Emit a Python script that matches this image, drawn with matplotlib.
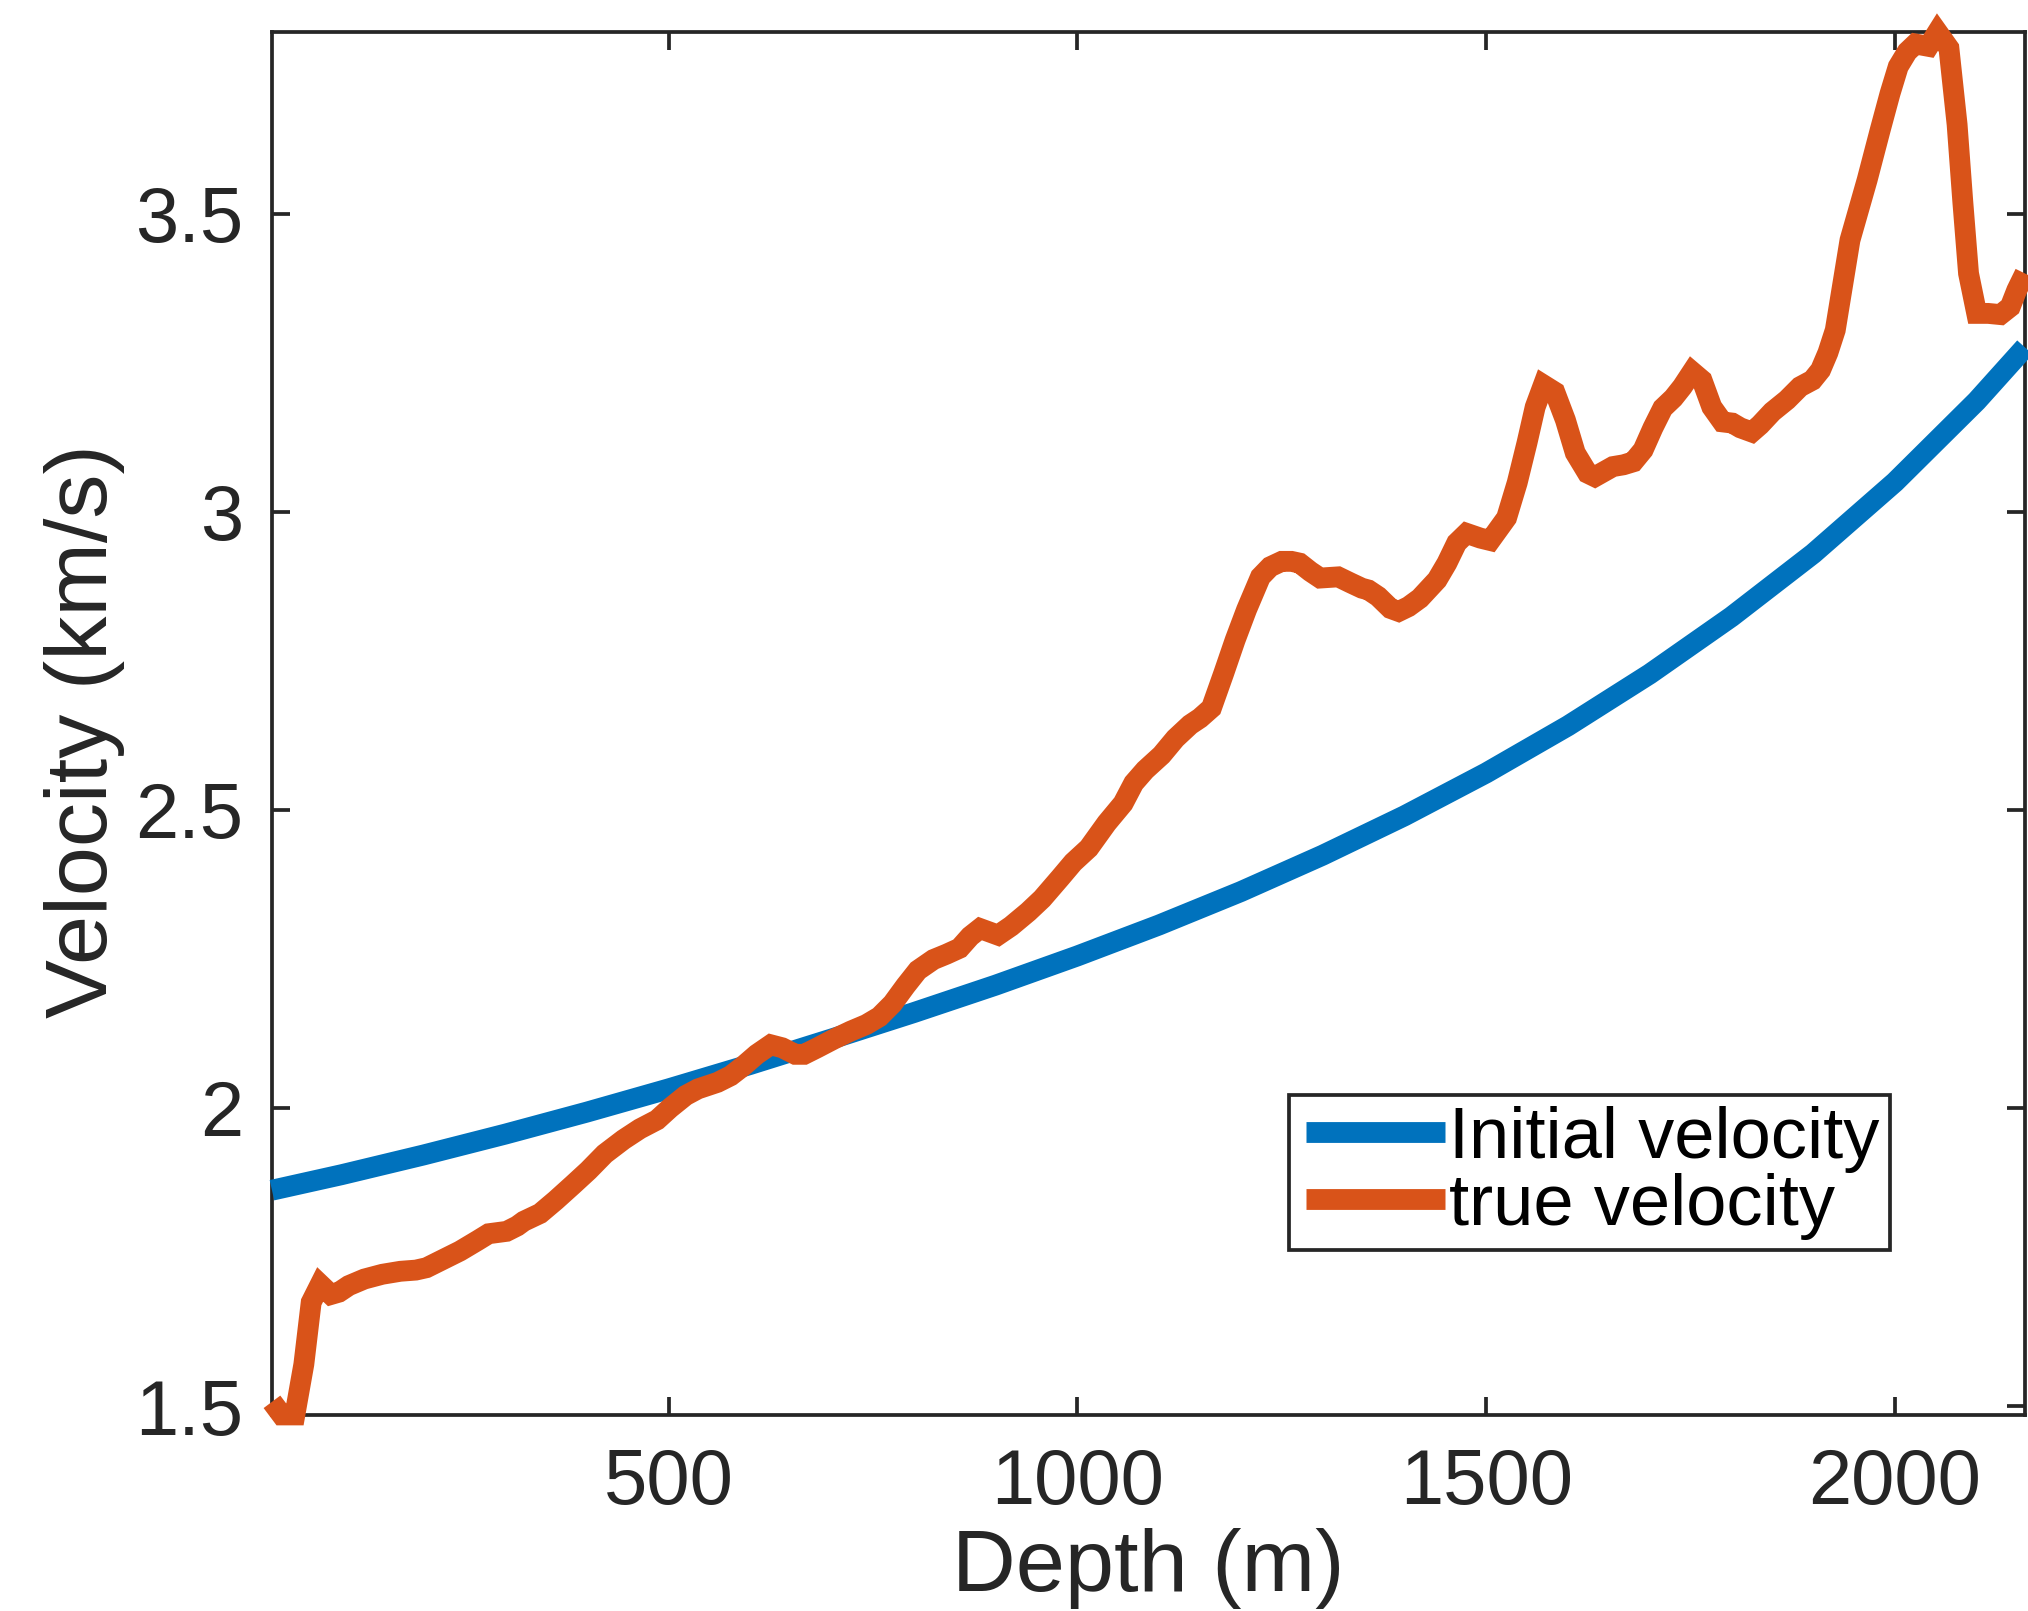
import matplotlib
matplotlib.use("Agg")
import matplotlib.pyplot as plt
from matplotlib.lines import Line2D
from matplotlib.legend_handler import HandlerLine2D

plt.rcParams['font.family'] = ['Liberation Sans', 'DejaVu Sans']

# Initial (smooth) velocity model: depth in m, velocity in km/s
depth_init = [15, 100, 200, 300, 400, 500, 600, 700, 800, 900, 1000, 1100,
              1200, 1300, 1400, 1500, 1600, 1700, 1800, 1900, 2000, 2100, 2159]
vel_init = [1.862, 1.888, 1.921, 1.956, 1.993, 2.032, 2.073, 2.116, 2.160,
            2.206, 2.255, 2.307, 2.363, 2.424, 2.490, 2.562, 2.641, 2.728,
            2.824, 2.930, 3.050, 3.186, 3.276]

# True velocity log
depth_true = [15, 27, 43, 54, 63, 74, 87, 97, 109, 128, 150, 172, 191, 204,
              223, 245, 267, 280, 302, 315, 323, 343, 362, 383, 402, 422, 445,
              465, 486, 502, 521, 536, 560, 576, 592, 608, 625, 639, 655, 666,
              682, 703, 723, 742, 758, 774, 790, 805, 824, 840, 856, 869, 881,
              903, 919, 940, 957, 979, 995, 1014, 1036, 1056, 1069, 1083, 1103,
              1120, 1138, 1150, 1164, 1179, 1193, 1207, 1224, 1236, 1250, 1262,
              1272, 1285, 1297, 1319, 1334, 1348, 1356, 1368, 1383, 1393, 1405,
              1419, 1440, 1452, 1464, 1476, 1493, 1505, 1525, 1538, 1550, 1560,
              1570, 1584, 1597, 1609, 1624, 1633, 1655, 1668, 1680, 1692, 1704,
              1716, 1729, 1740, 1752, 1764, 1776, 1789, 1801, 1811, 1825, 1835,
              1850, 1868, 1884, 1899, 1909, 1918, 1927, 1945, 1966, 1982, 1994,
              2004, 2015, 2025, 2041, 2052, 2066, 2076, 2083, 2090, 2100, 2114,
              2129, 2141, 2149, 2159]
vel_true = [1.507, 1.485, 1.485, 1.570, 1.674, 1.704, 1.687, 1.691, 1.702,
            1.713, 1.721, 1.726, 1.728, 1.732, 1.745, 1.760, 1.778, 1.789,
            1.793, 1.802, 1.810, 1.823, 1.845, 1.871, 1.895, 1.923, 1.947,
            1.965, 1.980, 2.000, 2.021, 2.032, 2.043, 2.054, 2.071, 2.090,
            2.106, 2.101, 2.090, 2.090, 2.101, 2.116, 2.129, 2.140, 2.153,
            2.175, 2.205, 2.231, 2.249, 2.258, 2.268, 2.288, 2.301, 2.290,
            2.305, 2.329, 2.351, 2.386, 2.412, 2.436, 2.478, 2.511, 2.545,
            2.567, 2.592, 2.620, 2.643, 2.654, 2.671, 2.729, 2.785, 2.836,
            2.891, 2.908, 2.917, 2.917, 2.914, 2.900, 2.889, 2.891, 2.881,
            2.872, 2.869, 2.858, 2.838, 2.833, 2.841, 2.855, 2.886, 2.914,
            2.948, 2.964, 2.956, 2.952, 2.990, 3.049, 3.116, 3.176, 3.213,
            3.201, 3.154, 3.099, 3.065, 3.059, 3.076, 3.079, 3.084, 3.104,
            3.141, 3.174, 3.191, 3.210, 3.235, 3.221, 3.176, 3.151, 3.149,
            3.141, 3.134, 3.146, 3.168, 3.188, 3.210, 3.221, 3.238, 3.267,
            3.305, 3.456, 3.557, 3.641, 3.702, 3.747, 3.772, 3.785, 3.781,
            3.805, 3.778, 3.650, 3.520, 3.400, 3.333, 3.333, 3.331, 3.344,
            3.372, 3.400]

x_ticks = [500, 1000, 1500, 2000]
x_tick_labels = ['500', '1000', '1500', '2000']
y_ticks = [1.5, 2.0, 2.5, 3.0, 3.5]
y_tick_labels = ['1.5', '2', '2.5', '3', '3.5']

BLUE = '#0072BD'
ORANGE = '#D95319'
DARK = '#262626'
LW = 15.0

fig = plt.figure(figsize=(20.28, 16.11), dpi=100)
ax = fig.add_axes([0.1341, 0.1217, 0.8644, 0.8584])

ax.plot(depth_init, vel_init, color=BLUE, lw=LW, solid_capstyle='butt',
        solid_joinstyle='round', clip_on=False, zorder=3,
        label='Initial velocity')
ax.plot(depth_true, vel_true, color=ORANGE, lw=LW, solid_capstyle='butt',
        solid_joinstyle='miter', clip_on=False, zorder=4,
        label='true velocity')

ax.set_xlim(min(depth_true), max(depth_true))
ax.set_ylim(min(vel_true), max(vel_true))

ax.set_xticks(x_ticks)
ax.set_xticklabels(x_tick_labels)
ax.set_yticks(y_ticks)
ax.set_yticklabels(y_tick_labels)

for s in ax.spines.values():
    s.set_linewidth(2.7)
    s.set_color(DARK)

ax.tick_params(axis='both', which='both', direction='in', length=13,
               width=2.7, color=DARK, labelcolor=DARK, labelsize=56,
               top=True, right=True)
ax.tick_params(axis='x', pad=23.0)
ax.tick_params(axis='y', pad=20.5)

ax.set_xlabel('Depth (m)', fontsize=63.5, color=DARK)
ax.set_ylabel('Velocity (km/s)', fontsize=63.5, color=DARK)
ax.xaxis.set_label_coords(0.5, -0.082)
ax.yaxis.set_label_coords(-0.084, 0.4946)

leg = ax.legend(loc='lower left', bbox_to_anchor=(0.5804, 0.1190),
                borderaxespad=0, fontsize=52, frameon=True, fancybox=False,
                edgecolor=DARK, framealpha=1, handlelength=2.0,
                handletextpad=0.055, borderpad=0.15, labelspacing=0.0,
                handler_map={Line2D: HandlerLine2D(xpad=0.08)})
leg.get_frame().set_linewidth(2.7)
leg.set_zorder(5)

fig.savefig('out.png', dpi=100, facecolor='white')
